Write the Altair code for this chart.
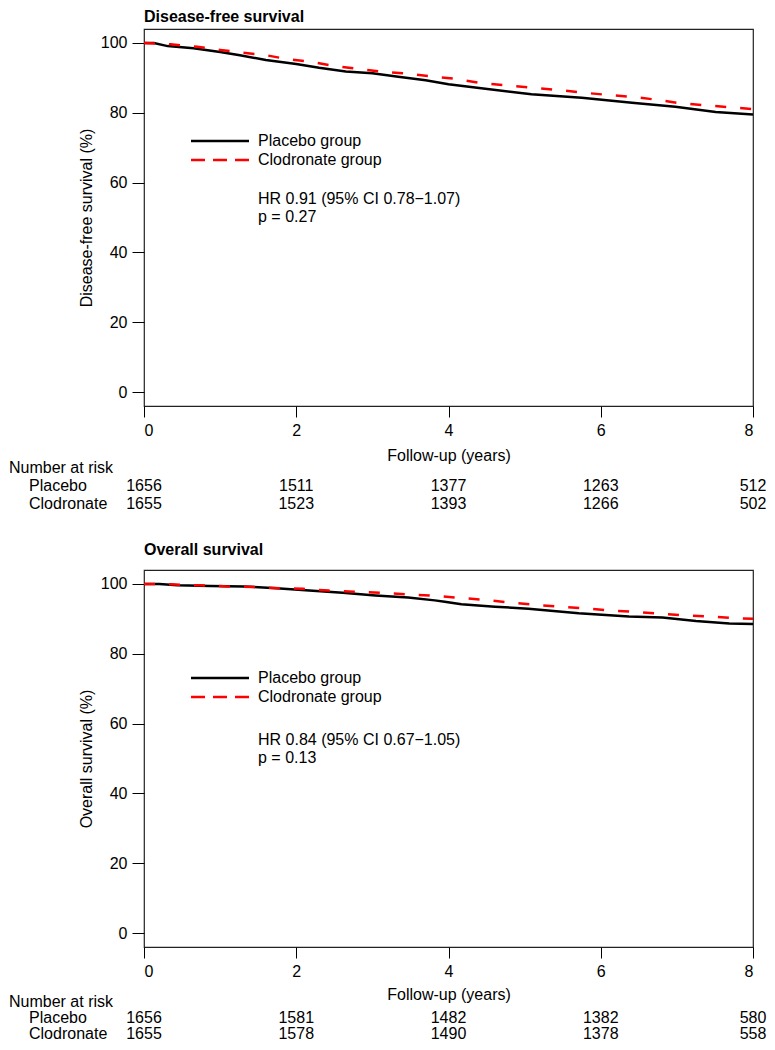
import altair as alt
import pandas as pd

FONT = "Liberation Sans"
W, H = 609, 377

risk_years = [0, 2, 4, 6, 8]
y_ticks = [0, 20, 40, 60, 80, 100]

# ---- Disease-free survival ----
dfs_placebo_t = [0, 0.13, 0.31, 0.65, 1.0, 1.26, 1.6, 2.0, 2.3, 2.65, 3.0, 3.34, 3.7,
                 4.0, 4.43, 5.09, 5.75, 6.41, 6.98, 7.51, 8.0]
dfs_placebo_s = [100, 100, 99.1, 98.5, 97.4, 96.5, 95.1, 94.0, 92.9, 91.8, 91.3, 90.3, 89.3,
                 88.2, 87.0, 85.3, 84.3, 82.9, 81.7, 80.2, 79.5]
dfs_clod_t = [0, 0.35, 0.7, 1.0, 1.3, 1.6, 1.9, 2.2, 2.5, 2.8, 3.1, 3.4, 3.7, 4.1, 4.4,
              4.75, 5.1, 5.45, 5.75, 6.1, 6.4, 6.75, 7.05, 7.4, 7.7, 8.0]
dfs_clod_s = [100, 99.6, 98.9, 98.0, 97.2, 96.5, 95.3, 94.6, 93.4, 92.6, 91.8, 91.3, 90.6,
              89.7, 88.6, 87.9, 87.2, 86.5, 85.8, 85.1, 84.6, 83.7, 82.7, 82.1, 81.6, 81.0]
dfs_risk_placebo = [1656, 1511, 1377, 1263, 512]
dfs_risk_clod = [1655, 1523, 1393, 1266, 502]

# ---- Overall survival ----
os_placebo_t = [0, 0.2, 0.44, 0.87, 1.31, 1.74, 2.17, 2.61, 3.04, 3.47, 3.82, 3.95,
                4.17, 4.61, 5.05, 5.71, 6.37, 6.81, 7.25, 7.69, 8.0]
os_placebo_s = [100, 100, 99.6, 99.4, 99.3, 98.8, 98.1, 97.5, 96.7, 96.1, 95.3, 94.9,
                94.2, 93.5, 92.9, 91.6, 90.7, 90.4, 89.4, 88.7, 88.5]
os_clod_t = [0, 0.35, 0.74, 1.09, 1.44, 1.78, 2.09, 2.43, 2.76, 3.10, 3.45, 3.75, 4.10,
             4.43, 4.76, 5.09, 5.45, 5.75, 6.11, 6.44, 6.77, 7.10, 7.43, 7.76, 8.0]
os_clod_s = [100, 99.9, 99.6, 99.3, 99.1, 98.8, 98.6, 98.1, 97.8, 97.5, 97.0, 96.7, 96.1,
             95.5, 94.8, 94.1, 93.5, 93.1, 92.4, 92.0, 91.5, 91.0, 90.7, 90.2, 90.0]
os_risk_placebo = [1656, 1581, 1482, 1382, 580]
os_risk_clod = [1655, 1578, 1490, 1378, 558]

legend_labels = ["Placebo group", "Clodronate group"]
risk_rows = ["Placebo", "Clodronate"]

xs = alt.Scale(domain=[0, 8], nice=False, zero=False)
ys = alt.Scale(domain=[-4, 104], nice=False, zero=False)


def label(text, x, y, weight="normal", align="left"):
    return alt.Chart(pd.DataFrame({"label": [text]})).mark_text(
        align=align, baseline="middle", font=FONT, fontSize=16,
        fontWeight=weight, color="black"
    ).encode(x=alt.value(x), y=alt.value(y), text="label:N")


def panel(title, ytitle, pt, ps, ct, cs, rp, rc, hr, pv, leg_y, hr_y, title_y, rows_y, xt_y):
    xax = alt.Axis(values=risk_years, title="Follow-up (years)", titleY=xt_y,
                   titleBaseline="alphabetic", tickSize=11, labelPadding=5,
                   format="d")
    yax = alt.Axis(values=y_ticks, title=ytitle, titleX=-53, titleY=H / 2,
                   titleBaseline="alphabetic", titleAlign="center", titleAngle=270,
                   tickSize=12, labelPadding=5, format="d")
    placebo = alt.Chart(pd.DataFrame({"t": pt, "s": ps})).mark_line(
        color="black", strokeWidth=2.5, clip=True
    ).encode(x=alt.X("t:Q", scale=xs, axis=xax), y=alt.Y("s:Q", scale=ys, axis=yax))
    clod = alt.Chart(pd.DataFrame({"t": ct, "s": cs})).mark_line(
        color="#ff0000", strokeWidth=2.5, strokeDash=[11, 14], clip=True
    ).encode(x="t:Q", y="s:Q")

    leg1 = alt.Chart(pd.DataFrame({"label": [legend_labels[0]]})).mark_rule(
        color="black", strokeWidth=2.5
    ).encode(x=alt.value(47), x2=alt.value(105), y=alt.value(leg_y))
    leg2 = alt.Chart(pd.DataFrame({"label": [legend_labels[1]]})).mark_rule(
        color="#ff0000", strokeWidth=2.5, strokeDash=[14, 8]
    ).encode(x=alt.value(47), x2=alt.value(105), y=alt.value(leg_y + 19))
    legt1 = label(legend_labels[0], 114, leg_y)
    legt2 = label(legend_labels[1], 114, leg_y + 19)
    hr_t = label(hr, 114, hr_y)
    p_t = label(pv, 114, hr_y + 18)
    ttl = label(title, 0, title_y, weight="bold")

    r0, r1, r2 = rows_y
    nar = label("Number at risk", -135, r0)
    row1 = label(risk_rows[0], -115, r1)
    row2 = label(risk_rows[1], -115, r2)
    n1 = alt.Chart(pd.DataFrame({"t": risk_years, "n": [str(v) for v in rp]})).mark_text(
        align="center", baseline="middle", font=FONT, fontSize=16, color="black"
    ).encode(x="t:Q", y=alt.value(r1), text="n:N")
    n2 = alt.Chart(pd.DataFrame({"t": risk_years, "n": [str(v) for v in rc]})).mark_text(
        align="center", baseline="middle", font=FONT, fontSize=16, color="black"
    ).encode(x="t:Q", y=alt.value(r2), text="n:N")

    return alt.layer(placebo, clod, leg1, leg2, legt1, legt2, hr_t, p_t, ttl,
                     nar, row1, row2, n1, n2).properties(width=W, height=H)


p1 = panel("Disease-free survival", "Disease-free survival (%)",
           dfs_placebo_t, dfs_placebo_s, dfs_clod_t, dfs_clod_s,
           dfs_risk_placebo, dfs_risk_clod,
           "HR 0.91 (95% CI 0.78\u22121.07)", "p = 0.27",
           112, 170, -12, (439, 457, 475), 54)
p2 = panel("Overall survival", "Overall survival (%)",
           os_placebo_t, os_placebo_s, os_clod_t, os_clod_s,
           os_risk_placebo, os_risk_clod,
           "HR 0.84 (95% CI 0.67\u22121.05)", "p = 0.13",
           108, 170, -20, (432, 448, 464), 52)

chart = alt.vconcat(p1, p2, spacing=164, bounds="flush").properties(
    padding={"left": 0, "top": 0, "right": 0, "bottom": 0},
    background="white",
).configure(
    padding=0
).configure_view(
    stroke="#222222", strokeWidth=1.2
).configure_axis(
    domain=False, grid=False, tickColor="black", tickWidth=1,
    labelFont=FONT, labelFontSize=16, labelColor="black",
    titleFont=FONT, titleFontSize=16, titleFontWeight="normal", titleColor="black",
)

chart.save("out.html", embed_options={"renderer": "svg", "actions": False})
